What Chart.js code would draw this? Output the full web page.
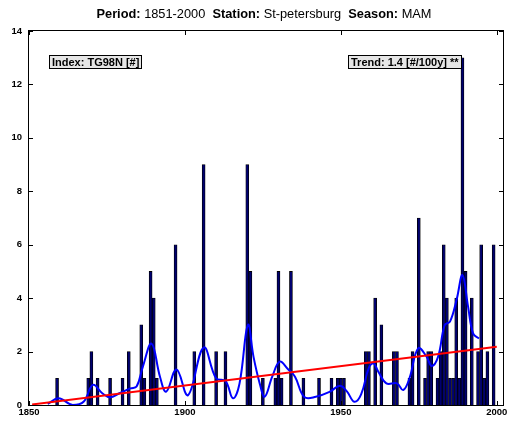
<!DOCTYPE html>
<html>
<head>
<meta charset="utf-8">
<script src="https://cdn.jsdelivr.net/npm/chart.js@4.4.1/dist/chart.umd.min.js"></script>
<style>
  body { margin: 0; background: #fff; }
  #wrap { position: relative; width: 510px; height: 425px; }
  #title {
    position: absolute; top: 6px; left: 0; width: 528px;
    text-align: center; white-space: pre;
    font: 12.8px "Liberation Sans", Arial, sans-serif; color: #000;
  }
</style>
</head>
<body>
<div id="wrap">
  <canvas id="myChart" width="510" height="425"></canvas>
  <div id="title"><b>Period:</b> 1851-2000  <b>Station:</b> St-petersburg  <b>Season:</b> MAM</div>
</div>
<script>
// yearly counts (only years with a non-zero count)
const barYears = [1859, 1869, 1870, 1872, 1876, 1880, 1882, 1886, 1887, 1889, 1890, 1891,
  1897, 1903, 1906, 1910, 1913, 1920, 1921, 1925, 1929, 1930, 1931, 1934, 1938,
  1943, 1947, 1949, 1950, 1951, 1958, 1959, 1961, 1963, 1967, 1968, 1972, 1973,
  1975, 1977, 1978, 1979, 1981, 1982, 1983, 1984, 1985, 1986, 1987, 1988, 1989,
  1990, 1992, 1994, 1995, 1996, 1997, 1999];
const barCounts = [1, 1, 2, 1, 1, 1, 2, 3, 1, 5, 4, 1,
  6, 2, 9, 2, 2, 9, 5, 1, 1, 5, 1, 5, 1,
  1, 1, 1, 1, 1, 2, 2, 4, 3, 2, 2, 1, 2,
  7, 1, 2, 2, 1, 2, 6, 4, 1, 1, 4, 1, 13,
  5, 4, 2, 6, 1, 2, 6];

// smoothed curve
const smoothYears = [1856, 1859.5, 1864, 1867.5, 1870.5, 1873.5, 1876, 1879, 1882.5, 1884.5,
  1886.5, 1889.3, 1892, 1894, 1897.3, 1901, 1906, 1910, 1913, 1915.4, 1917.5, 1920.2,
  1922, 1924, 1925.6, 1928, 1930.4, 1933, 1935.3, 1938.3, 1942, 1946.5, 1949.7, 1952,
  1954.3, 1956.5, 1959, 1960.5, 1962, 1964.6, 1968, 1970, 1972, 1974.8, 1977.5, 1979.1,
  1981.2, 1983.3, 1985, 1987.1, 1989, 1990.8, 1992.4, 1994.3];
const smoothValues = [0.04, 0.25, 0.0, 0.12, 0.75, 0.44, 0.29, 0.44, 0.62, 0.69,
  1.43, 2.3, 1.06, 0.5, 1.33, 0.37, 2.15, 1.0, 0.9, 0.25, 0.8, 3.0,
  1.8, 0.8, 0.31, 1.06, 1.62, 1.35, 1.06, 0.3, 0.31, 0.5, 0.72, 0.5,
  0.12, 0.4, 1.4, 1.56, 1.25, 0.81, 0.81, 0.56, 1.0, 2.12, 1.81, 1.46,
  1.81, 2.99, 3.12, 3.93, 4.86, 3.68, 2.68, 2.49];

// linear trend
const trendYears = [1851, 2000];
const trendValues = [0.02, 2.18];

const xTicks = [1850, 1900, 1950, 2000];
const yTicks = [0, 2, 4, 6, 8, 10, 12, 14];

const indexLabel = 'Index: TG98N [#]';
const trendLabel = 'Trend: 1.4 [#/100y] **';

const FONT = '"Liberation Sans", Arial, Helvetica, sans-serif';

function toPoints(xs, ys) {
  return xs.map((v, i) => ({ x: v, y: ys[i] }));
}

function drawBox(ctx, text, x, y) {
  const w = Math.round(ctx.measureText(text).width) + 6;
  const h = 14;
  ctx.fillStyle = '#e6e6e6';
  ctx.fillRect(x, y, w, h);
  ctx.strokeStyle = '#000';
  ctx.lineWidth = 1;
  ctx.strokeRect(x + 0.5, y + 0.5, w - 1, h - 1);
  ctx.fillStyle = '#000';
  ctx.textBaseline = 'middle';
  ctx.textAlign = 'left';
  ctx.fillText(text, x + 3, y + h / 2 + 0.5);
}

const framePlugin = {
  id: 'frame',
  afterDatasetsDraw(chart) {
    const { ctx, chartArea: a, scales: { x, y } } = chart;
    ctx.save();
    ctx.strokeStyle = '#000';
    ctx.lineWidth = 1;
    ctx.beginPath();
    xTicks.forEach(v => {
      const px = Math.round(x.getPixelForValue(v)) + 0.5;
      ctx.moveTo(px, a.bottom); ctx.lineTo(px, a.bottom - 4);
      ctx.moveTo(px, a.top); ctx.lineTo(px, a.top + 4);
    });
    yTicks.forEach(v => {
      const py = Math.round(y.getPixelForValue(v)) + 0.5;
      ctx.moveTo(a.left, py); ctx.lineTo(a.left + 4, py);
      ctx.moveTo(a.right, py); ctx.lineTo(a.right - 4, py);
    });
    ctx.stroke();
    ctx.strokeRect(Math.round(a.left) - 0.5, Math.round(a.top) - 0.5,
      Math.round(a.width) + 1, Math.round(a.height) + 1);

    ctx.font = 'bold 11px ' + FONT;
    const by = Math.round(a.top + 0.064 * a.height);
    drawBox(ctx, indexLabel, Math.round(a.left + 0.042 * a.width), by);
    drawBox(ctx, trendLabel, Math.round(a.left + 0.673 * a.width), by);
    ctx.restore();
  }
};

const ctx = document.getElementById('myChart').getContext('2d');
const myChart = new Chart(ctx, {
  type: 'bar',
  data: {
    datasets: [
      {
        type: 'line',
        label: 'trend',
        data: toPoints(trendYears, trendValues),
        borderColor: '#ff0000',
        borderWidth: 2,
        pointRadius: 0,
        order: 1
      },
      {
        type: 'line',
        label: 'smooth',
        data: toPoints(smoothYears, smoothValues),
        borderColor: '#0000ff',
        borderWidth: 2,
        pointRadius: 0,
        tension: 0.4,
        order: 2
      },
      {
        type: 'bar',
        label: 'count',
        data: toPoints(barYears, barCounts),
        backgroundColor: '#000070',
        borderColor: '#000000',
        borderWidth: 0.8,
        barThickness: 3,
        order: 3
      }
    ]
  },
  options: {
    responsive: false,
    animation: false,
    events: [],
    layout: { padding: { top: 31, right: 7, left: 0, bottom: 0 } },
    plugins: {
      legend: { display: false },
      title: { display: false },
      tooltip: { enabled: false }
    },
    scales: {
      x: {
        type: 'linear',
        min: 1850,
        max: 2002,
        offset: false,
        afterBuildTicks: s => { s.ticks = xTicks.map(v => ({ value: v })); },
        afterFit: s => { s.height = 20; },
        grid: { display: false, drawTicks: false },
        border: { display: false },
        ticks: {
          color: '#000',
          font: { family: FONT, size: 9.5, weight: 'bold' },
          padding: 2,
          maxRotation: 0,
          autoSkip: false,
          callback: v => String(v)
        }
      },
      y: {
        min: 0,
        max: 14,
        afterBuildTicks: s => { s.ticks = yTicks.map(v => ({ value: v })); },
        afterFit: s => { s.width = 29; },
        grid: { display: false, drawTicks: false },
        border: { display: false },
        ticks: {
          color: '#000',
          font: { family: FONT, size: 9.5, weight: 'bold' },
          padding: 7
        }
      }
    }
  },
  plugins: [framePlugin]
});
</script>
</body>
</html>
